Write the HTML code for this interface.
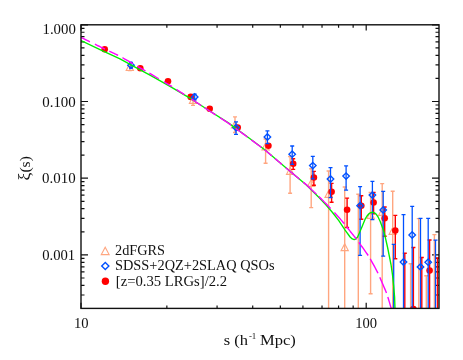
<!DOCTYPE html>
<html><head><meta charset="utf-8"><title>xi(s)</title>
<style>html,body{margin:0;padding:0;background:#fff;}body{width:463px;height:360px;overflow:hidden;font-family:"Liberation Serif",serif;}svg{display:block;}</style>
</head><body>
<svg width="463" height="360" viewBox="0 0 463 360">
<rect width="463" height="360" fill="#fff"/>
<defs><clipPath id="cp"><rect x="81.00" y="24.80" width="358.00" height="283.60"/></clipPath></defs>
<path d="M81.00 24.80h7.00 M439.00 24.80h-7.00 M81.00 101.50h7.00 M439.00 101.50h-7.00 M81.00 78.41h3.50 M439.00 78.41h-3.50 M81.00 64.90h3.50 M439.00 64.90h-3.50 M81.00 55.32h3.50 M439.00 55.32h-3.50 M81.00 47.89h3.50 M439.00 47.89h-3.50 M81.00 41.82h3.50 M439.00 41.82h-3.50 M81.00 36.68h3.50 M439.00 36.68h-3.50 M81.00 32.23h3.50 M439.00 32.23h-3.50 M81.00 28.31h3.50 M439.00 28.31h-3.50 M81.00 178.20h7.00 M439.00 178.20h-7.00 M81.00 155.11h3.50 M439.00 155.11h-3.50 M81.00 141.60h3.50 M439.00 141.60h-3.50 M81.00 132.02h3.50 M439.00 132.02h-3.50 M81.00 124.59h3.50 M439.00 124.59h-3.50 M81.00 118.52h3.50 M439.00 118.52h-3.50 M81.00 113.38h3.50 M439.00 113.38h-3.50 M81.00 108.93h3.50 M439.00 108.93h-3.50 M81.00 105.01h3.50 M439.00 105.01h-3.50 M81.00 254.90h7.00 M439.00 254.90h-7.00 M81.00 231.81h3.50 M439.00 231.81h-3.50 M81.00 218.30h3.50 M439.00 218.30h-3.50 M81.00 208.72h3.50 M439.00 208.72h-3.50 M81.00 201.29h3.50 M439.00 201.29h-3.50 M81.00 195.22h3.50 M439.00 195.22h-3.50 M81.00 190.08h3.50 M439.00 190.08h-3.50 M81.00 185.63h3.50 M439.00 185.63h-3.50 M81.00 181.71h3.50 M439.00 181.71h-3.50 M81.00 308.51h3.50 M439.00 308.51h-3.50 M81.00 295.00h3.50 M439.00 295.00h-3.50 M81.00 285.42h3.50 M439.00 285.42h-3.50 M81.00 277.99h3.50 M439.00 277.99h-3.50 M81.00 271.92h3.50 M439.00 271.92h-3.50 M81.00 266.78h3.50 M439.00 266.78h-3.50 M81.00 262.33h3.50 M439.00 262.33h-3.50 M81.00 258.41h3.50 M439.00 258.41h-3.50 M81.00 308.40v-5.70 M81.00 24.80v5.70 M166.85 308.40v-2.85 M166.85 24.80v2.85 M217.07 308.40v-2.85 M217.07 24.80v2.85 M252.71 308.40v-2.85 M252.71 24.80v2.85 M280.35 308.40v-2.85 M280.35 24.80v2.85 M302.93 308.40v-2.85 M302.93 24.80v2.85 M322.02 308.40v-2.85 M322.02 24.80v2.85 M338.56 308.40v-2.85 M338.56 24.80v2.85 M353.15 308.40v-2.85 M353.15 24.80v2.85 M366.20 308.40v-5.70 M366.20 24.80v5.70" stroke="#111" stroke-width="1.2" fill="none"/>
<g clip-path="url(#cp)">
<path d="M129.80 65.80V70.60 M127.80 65.80H131.80 M127.80 70.60H131.80" stroke="#ffa680" stroke-width="1.40" fill="none"/>
<path d="M193.00 97.60V105.40 M191.00 97.60H195.00 M191.00 105.40H195.00" stroke="#ffa680" stroke-width="1.40" fill="none"/>
<path d="M235.00 116.90V132.50 M233.00 116.90H237.00 M233.00 132.50H237.00" stroke="#ffa680" stroke-width="1.40" fill="none"/>
<path d="M265.60 139.00V163.20 M263.60 139.00H267.60 M263.60 163.20H267.60" stroke="#ffa680" stroke-width="1.40" fill="none"/>
<path d="M290.10 156.50V193.20 M288.10 156.50H292.10 M288.10 193.20H292.10" stroke="#ffa680" stroke-width="1.40" fill="none"/>
<path d="M311.20 168.70V207.60 M309.20 168.70H313.20 M309.20 207.60H313.20" stroke="#ffa680" stroke-width="1.40" fill="none"/>
<path d="M328.60 171.00V308.40 M326.60 171.00H330.60" stroke="#ffa680" stroke-width="1.40" fill="none"/>
<path d="M344.70 187.00V308.40 M342.70 187.00H346.70" stroke="#ffa680" stroke-width="1.40" fill="none"/>
<path d="M358.30 194.20V308.40 M356.30 194.20H360.30" stroke="#ffa680" stroke-width="1.40" fill="none"/>
<path d="M370.60 192.50V293.80 M368.60 192.50H372.60 M368.60 293.80H372.60" stroke="#ffa680" stroke-width="1.40" fill="none"/>
<path d="M382.20 183.60V308.40 M380.20 183.60H384.20" stroke="#ffa680" stroke-width="1.40" fill="none"/>
<path d="M392.70 191.30V308.40 M390.70 191.30H394.70" stroke="#ffa680" stroke-width="1.40" fill="none"/>
<path d="M410.60 263.75V308.40 M408.60 263.75H412.60" stroke="#ffa680" stroke-width="1.40" fill="none"/>
<path d="M418.75 218.60V308.40 M416.75 218.60H420.75" stroke="#ffa680" stroke-width="1.40" fill="none"/>
<path d="M426.30 275.80V308.40 M424.30 275.80H428.30" stroke="#ffa680" stroke-width="1.40" fill="none"/>
<path d="M434.40 234.60V308.40 M432.40 234.60H436.40" stroke="#ffa680" stroke-width="1.40" fill="none"/>
<path d="M129.80 63.60L133.40 70.50L126.20 70.50Z" stroke="#ffa680" stroke-width="1.15" fill="none" stroke-linejoin="miter"/>
<path d="M193.00 96.40L196.60 103.30L189.40 103.30Z" stroke="#ffa680" stroke-width="1.15" fill="none" stroke-linejoin="miter"/>
<path d="M235.00 120.90L238.60 127.80L231.40 127.80Z" stroke="#ffa680" stroke-width="1.15" fill="none" stroke-linejoin="miter"/>
<path d="M265.60 142.90L269.20 149.80L262.00 149.80Z" stroke="#ffa680" stroke-width="1.15" fill="none" stroke-linejoin="miter"/>
<path d="M290.10 167.40L293.70 174.30L286.50 174.30Z" stroke="#ffa680" stroke-width="1.15" fill="none" stroke-linejoin="miter"/>
<path d="M311.20 179.40L314.80 186.30L307.60 186.30Z" stroke="#ffa680" stroke-width="1.15" fill="none" stroke-linejoin="miter"/>
<path d="M328.60 190.40L332.20 197.30L325.00 197.30Z" stroke="#ffa680" stroke-width="1.15" fill="none" stroke-linejoin="miter"/>
<path d="M344.70 243.70L348.30 250.60L341.10 250.60Z" stroke="#ffa680" stroke-width="1.15" fill="none" stroke-linejoin="miter"/>
<path d="M370.60 211.40L374.20 218.30L367.00 218.30Z" stroke="#ffa680" stroke-width="1.15" fill="none" stroke-linejoin="miter"/>
<path d="M382.20 208.40L385.80 215.30L378.60 215.30Z" stroke="#ffa680" stroke-width="1.15" fill="none" stroke-linejoin="miter"/>
<path d="M392.70 227.40L396.30 234.30L389.10 234.30Z" stroke="#ffa680" stroke-width="1.15" fill="none" stroke-linejoin="miter"/>
<path d="M293.20 158.80V169.40 M291.20 158.80H295.20 M291.20 169.40H295.20" stroke="#ff0000" stroke-width="1.40" fill="none"/>
<path d="M313.90 171.40V185.20 M311.90 171.40H315.90 M311.90 185.20H315.90" stroke="#ff0000" stroke-width="1.40" fill="none"/>
<path d="M331.60 183.40V202.30 M329.60 183.40H333.60 M329.60 202.30H333.60" stroke="#ff0000" stroke-width="1.40" fill="none"/>
<path d="M347.10 198.10V227.50 M345.10 198.10H349.10 M345.10 227.50H349.10" stroke="#ff0000" stroke-width="1.40" fill="none"/>
<path d="M361.30 195.70V219.30 M359.30 195.70H363.30 M359.30 219.30H363.30" stroke="#ff0000" stroke-width="1.40" fill="none"/>
<path d="M373.60 192.50V213.75 M371.60 192.50H375.60 M371.60 213.75H375.60" stroke="#ff0000" stroke-width="1.40" fill="none"/>
<path d="M384.70 207.00V236.30 M382.70 207.00H386.70 M382.70 236.30H386.70" stroke="#ff0000" stroke-width="1.40" fill="none"/>
<path d="M395.30 215.40V258.75 M393.30 215.40H397.30 M393.30 258.75H397.30" stroke="#ff0000" stroke-width="1.40" fill="none"/>
<path d="M404.80 253.20V308.40 M402.80 253.20H406.80" stroke="#ff0000" stroke-width="1.40" fill="none"/>
<path d="M413.40 247.50V308.40 M411.40 247.50H415.40" stroke="#ff0000" stroke-width="1.40" fill="none"/>
<path d="M421.80 257.50V308.40 M419.80 257.50H423.80" stroke="#ff0000" stroke-width="1.40" fill="none"/>
<path d="M429.60 240.00V308.40 M427.60 240.00H431.60" stroke="#ff0000" stroke-width="1.40" fill="none"/>
<path d="M437.50 258.00V308.40 M435.50 258.00H439.50" stroke="#ff0000" stroke-width="1.40" fill="none"/>
<circle cx="104.70" cy="49.30" r="3.30" fill="#ff0000"/>
<circle cx="140.30" cy="68.20" r="3.30" fill="#ff0000"/>
<circle cx="168.00" cy="81.30" r="3.30" fill="#ff0000"/>
<circle cx="190.70" cy="96.90" r="3.30" fill="#ff0000"/>
<circle cx="209.70" cy="108.70" r="3.30" fill="#ff0000"/>
<circle cx="237.70" cy="127.60" r="3.30" fill="#ff0000"/>
<circle cx="268.40" cy="145.80" r="3.30" fill="#ff0000"/>
<circle cx="293.20" cy="163.80" r="3.30" fill="#ff0000"/>
<circle cx="313.90" cy="177.50" r="3.30" fill="#ff0000"/>
<circle cx="331.60" cy="191.70" r="3.30" fill="#ff0000"/>
<circle cx="347.10" cy="209.70" r="3.30" fill="#ff0000"/>
<circle cx="361.30" cy="205.70" r="3.30" fill="#ff0000"/>
<circle cx="373.60" cy="202.50" r="3.30" fill="#ff0000"/>
<circle cx="384.70" cy="218.20" r="3.30" fill="#ff0000"/>
<circle cx="395.30" cy="230.60" r="3.30" fill="#ff0000"/>
<circle cx="413.40" cy="309.00" r="3.30" fill="#ff0000"/>
<circle cx="429.60" cy="270.60" r="3.30" fill="#ff0000"/>
<path d="M131.00 62.50V68.20 M129.00 62.50H133.00 M129.00 68.20H133.00" stroke="#0050ff" stroke-width="1.30" fill="none"/>
<path d="M194.70 94.20V99.80 M192.70 94.20H196.70 M192.70 99.80H196.70" stroke="#0050ff" stroke-width="1.30" fill="none"/>
<path d="M236.00 121.90V134.40 M234.00 121.90H238.00 M234.00 134.40H238.00" stroke="#0050ff" stroke-width="1.30" fill="none"/>
<path d="M267.40 130.80V143.60 M265.40 130.80H269.40 M265.40 143.60H269.40" stroke="#0050ff" stroke-width="1.30" fill="none"/>
<path d="M292.20 146.00V164.40 M290.20 146.00H294.20 M290.20 164.40H294.20" stroke="#0050ff" stroke-width="1.30" fill="none"/>
<path d="M312.80 156.30V178.80 M310.80 156.30H314.80 M310.80 178.80H314.80" stroke="#0050ff" stroke-width="1.30" fill="none"/>
<path d="M330.50 167.60V197.60 M328.50 167.60H332.50 M328.50 197.60H332.50" stroke="#0050ff" stroke-width="1.30" fill="none"/>
<path d="M346.10 165.90V190.10 M344.10 165.90H348.10 M344.10 190.10H348.10" stroke="#0050ff" stroke-width="1.30" fill="none"/>
<path d="M360.10 186.60V255.30 M358.10 186.60H362.10 M358.10 255.30H362.10" stroke="#0050ff" stroke-width="1.30" fill="none"/>
<path d="M372.40 181.30V219.60 M370.40 181.30H374.40 M370.40 219.60H374.40" stroke="#0050ff" stroke-width="1.30" fill="none"/>
<path d="M383.20 191.30V256.20 M381.20 191.30H385.20 M381.20 256.20H385.20" stroke="#0050ff" stroke-width="1.30" fill="none"/>
<path d="M393.70 244.40V308.40 M391.70 244.40H395.70" stroke="#0050ff" stroke-width="1.30" fill="none"/>
<path d="M403.50 214.60V308.40 M401.50 214.60H405.50" stroke="#0050ff" stroke-width="1.30" fill="none"/>
<path d="M412.20 206.40V308.40 M410.20 206.40H414.20" stroke="#0050ff" stroke-width="1.30" fill="none"/>
<path d="M420.50 218.40V308.40 M418.50 218.40H422.50" stroke="#0050ff" stroke-width="1.30" fill="none"/>
<path d="M428.20 218.40V308.40 M426.20 218.40H430.20" stroke="#0050ff" stroke-width="1.30" fill="none"/>
<path d="M435.50 240.20V308.40 M433.50 240.20H437.50" stroke="#0050ff" stroke-width="1.30" fill="none"/>
<path d="M131.00 62.10L134.25 65.30L131.00 68.50L127.75 65.30Z" stroke="#0050ff" stroke-width="1.35" fill="none"/>
<path d="M194.70 93.70L197.95 96.90L194.70 100.10L191.45 96.90Z" stroke="#0050ff" stroke-width="1.35" fill="none"/>
<path d="M236.00 124.40L239.25 127.60L236.00 130.80L232.75 127.60Z" stroke="#0050ff" stroke-width="1.35" fill="none"/>
<path d="M267.40 133.80L270.65 137.00L267.40 140.20L264.15 137.00Z" stroke="#0050ff" stroke-width="1.35" fill="none"/>
<path d="M292.20 151.00L295.45 154.20L292.20 157.40L288.95 154.20Z" stroke="#0050ff" stroke-width="1.35" fill="none"/>
<path d="M312.80 162.40L316.05 165.60L312.80 168.80L309.55 165.60Z" stroke="#0050ff" stroke-width="1.35" fill="none"/>
<path d="M330.50 175.80L333.75 179.00L330.50 182.20L327.25 179.00Z" stroke="#0050ff" stroke-width="1.35" fill="none"/>
<path d="M346.10 172.90L349.35 176.10L346.10 179.30L342.85 176.10Z" stroke="#0050ff" stroke-width="1.35" fill="none"/>
<path d="M360.10 202.50L363.35 205.70L360.10 208.90L356.85 205.70Z" stroke="#0050ff" stroke-width="1.35" fill="none"/>
<path d="M372.40 191.90L375.65 195.10L372.40 198.30L369.15 195.10Z" stroke="#0050ff" stroke-width="1.35" fill="none"/>
<path d="M383.20 206.70L386.45 209.90L383.20 213.10L379.95 209.90Z" stroke="#0050ff" stroke-width="1.35" fill="none"/>
<path d="M403.50 258.80L406.75 262.00L403.50 265.20L400.25 262.00Z" stroke="#0050ff" stroke-width="1.35" fill="none"/>
<path d="M412.20 231.80L415.45 235.00L412.20 238.20L408.95 235.00Z" stroke="#0050ff" stroke-width="1.35" fill="none"/>
<path d="M420.50 263.70L423.75 266.90L420.50 270.10L417.25 266.90Z" stroke="#0050ff" stroke-width="1.35" fill="none"/>
<path d="M428.20 259.00L431.45 262.20L428.20 265.40L424.95 262.20Z" stroke="#0050ff" stroke-width="1.35" fill="none"/>
<polyline points="81.00,40.50 100.00,49.60 120.00,58.80 136.00,67.60 150.00,75.20 170.00,86.30 178.00,91.20 190.75,98.70 209.00,110.50 228.00,122.60 245.00,135.00 265.10,150.00 285.00,167.00 306.40,185.00 320.00,198.50 326.30,205.30 332.50,212.50 338.80,220.70 345.10,230.10 350.10,237.00 352.30,238.90 354.20,239.60 356.00,238.80 357.60,237.00 361.30,228.50 365.10,219.20 367.00,216.00 368.90,213.80 370.80,212.60 372.60,212.20 374.50,212.80 376.30,214.30 378.20,217.20 380.10,221.30 383.90,231.50 385.90,240.00 387.60,247.50 389.30,256.00 391.00,264.50 392.50,275.00 393.60,285.60 394.60,297.00 395.00,308.40" fill="none" stroke="#00ee00" stroke-width="1.35" stroke-linejoin="round"/>
<polyline points="81.00,37.40 81.81,37.80 82.62,38.19 83.43,38.59 84.24,38.98 85.05,39.38 85.85,39.78 86.66,40.17 87.47,40.57 88.28,40.96 89.09,41.36 89.90,41.76" fill="none" stroke="#ff00ff" stroke-width="1.4"/>
<polyline points="94.90,44.20 95.82,44.65 96.74,45.10 97.65,45.55 98.57,46.00 99.49,46.45 100.41,46.90 101.33,47.34 102.25,47.78 103.16,48.22 104.08,48.66 105.00,49.10" fill="none" stroke="#ff00ff" stroke-width="1.4"/>
<polyline points="109.30,51.16 110.10,51.55 110.90,51.93 111.70,52.32 112.50,52.70 113.30,53.08 114.10,53.47 114.90,53.85 115.70,54.24 116.50,54.62 117.30,55.00 118.10,55.39" fill="none" stroke="#ff00ff" stroke-width="1.4"/>
<polyline points="122.50,57.72 123.44,58.26 124.37,58.79 125.31,59.33 126.25,59.86 127.18,60.39 128.12,60.93 129.05,61.46 129.99,61.99 130.93,62.54 131.86,63.09 132.80,63.63" fill="none" stroke="#ff00ff" stroke-width="1.4"/>
<polyline points="137.50,66.36 138.23,66.78 138.95,67.20 139.68,67.62 140.41,68.04 141.14,68.46 141.86,68.88 142.59,69.30 143.32,69.72 144.05,70.14 144.77,70.55 145.50,70.97" fill="none" stroke="#ff00ff" stroke-width="1.4"/>
<polyline points="149.40,73.22 150.25,73.72 151.11,74.22 151.96,74.72 152.82,75.22 153.67,75.73 154.53,76.23 155.38,76.73 156.24,77.24 157.09,77.74 157.95,78.24 158.80,78.74" fill="none" stroke="#ff00ff" stroke-width="1.4"/>
<polyline points="163.90,81.75 164.64,82.19 165.37,82.62 166.11,83.05 166.85,83.49 167.58,83.92 168.32,84.36 169.05,84.79 169.79,85.23 170.53,85.69 171.26,86.17 172.00,86.65" fill="none" stroke="#ff00ff" stroke-width="1.4"/>
<polyline points="176.40,89.49 177.13,89.96 177.85,90.44 178.58,90.89 179.31,91.35 180.04,91.80 180.76,92.26 181.49,92.71 182.22,93.17 182.95,93.63 183.67,94.08 184.40,94.54" fill="none" stroke="#ff00ff" stroke-width="1.4"/>
<polyline points="191.30,98.91 192.21,99.53 193.12,100.16 194.03,100.78 194.94,101.40 195.85,102.00 196.75,102.60 197.66,103.19 198.57,103.79 199.48,104.38 200.39,104.98 201.30,105.58" fill="none" stroke="#ff00ff" stroke-width="1.4"/>
<polyline points="204.50,107.67 205.52,108.34 206.54,109.01 207.55,109.67 208.57,110.34 209.59,111.00 210.61,111.66 211.63,112.32 212.65,112.97 213.66,113.63 214.68,114.29 215.70,114.94" fill="none" stroke="#ff00ff" stroke-width="1.4"/>
<polyline points="220.00,117.72 221.00,118.36 222.00,119.01 223.00,119.66 224.00,120.30 225.00,120.95 226.00,121.59 227.00,122.24 228.00,122.88 229.00,123.62 230.00,124.36 231.00,125.08" fill="none" stroke="#ff00ff" stroke-width="1.4"/>
<polyline points="235.50,128.35 236.59,129.14 237.68,129.93 238.77,130.72 239.86,131.51 240.95,132.30 242.05,133.09 243.14,133.88 244.23,134.68 245.32,135.47 246.41,136.28 247.50,137.09" fill="none" stroke="#ff00ff" stroke-width="1.4"/>
<polyline points="251.30,139.91 252.21,140.58 253.12,141.26 254.03,141.93 254.94,142.61 255.85,143.28 256.75,143.96 257.66,144.63 258.57,145.31 259.48,145.98 260.39,146.66 261.30,147.33" fill="none" stroke="#ff00ff" stroke-width="1.4"/>
<polyline points="264.50,149.70 265.18,150.22 265.86,150.80 266.55,151.38 267.23,151.96 267.91,152.54 268.59,153.12 269.27,153.70 269.95,154.28 270.64,154.86 271.32,155.43 272.00,156.01" fill="none" stroke="#ff00ff" stroke-width="1.4"/>
<polyline points="275.00,158.56 275.63,159.10 276.25,159.63 276.88,160.16 277.51,160.70 278.14,161.23 278.76,161.76 279.39,162.30 280.02,162.83 280.65,163.36 281.27,163.90 281.90,164.43" fill="none" stroke="#ff00ff" stroke-width="1.4"/>
<polyline points="285.70,167.65 286.95,168.69 288.19,169.73 289.44,170.78 290.68,171.82 291.93,172.86 293.17,173.90 294.42,174.95 295.66,175.99 296.91,177.03 298.15,178.07 299.40,179.11" fill="none" stroke="#ff00ff" stroke-width="1.4"/>
<polyline points="303.20,182.16 304.40,183.12 305.60,184.08 306.80,185.09 308.00,186.23 309.20,187.37 310.40,188.50 311.60,189.64 312.80,190.78 314.00,191.91 315.20,193.05 316.40,194.19" fill="none" stroke="#ff00ff" stroke-width="1.4"/>
<polyline points="318.80,196.46 319.88,197.49 320.96,198.58 322.05,199.68 323.13,200.78 324.21,201.88 325.29,202.98 326.37,204.09 327.45,205.22 328.54,206.34 329.62,207.47 330.70,208.60" fill="none" stroke="#ff00ff" stroke-width="1.4"/>
<polyline points="334.40,212.50 335.31,213.48 336.22,214.47 337.13,215.45 338.04,216.44 338.95,217.49 339.85,218.54 340.76,219.60 341.67,220.65 342.58,221.70 343.49,222.75 344.40,223.80" fill="none" stroke="#ff00ff" stroke-width="1.4"/>
<polyline points="346.60,226.60 347.51,227.78 348.42,228.96 349.33,230.13 350.24,231.31 351.15,232.48 352.05,233.62 352.96,234.76 353.87,235.90 354.78,237.04 355.69,238.18 356.60,239.34" fill="none" stroke="#ff00ff" stroke-width="1.4"/>
<polyline points="358.80,242.40 359.65,243.55 360.51,244.69 361.36,245.84 362.22,246.98 363.07,248.13 363.93,249.32 364.78,250.55 365.64,251.79 366.49,253.03 367.35,254.26 368.20,255.50" fill="none" stroke="#ff00ff" stroke-width="1.4"/>
<polyline points="370.20,258.78 370.91,260.05 371.62,261.33 372.33,262.60 373.04,263.87 373.75,265.15 374.45,266.42 375.16,267.72 375.87,269.09 376.58,270.46 377.29,271.83 378.00,273.20" fill="none" stroke="#ff00ff" stroke-width="1.4"/>
<polyline points="379.80,277.34 380.41,278.74 381.02,280.14 381.63,281.54 382.24,282.94 382.85,284.34 383.45,285.76 384.06,287.19 384.67,288.62 385.28,290.05 385.89,291.47 386.50,292.90" fill="none" stroke="#ff00ff" stroke-width="1.4"/>
<polyline points="387.80,296.93 388.12,297.97 388.44,299.01 388.75,300.06 389.07,301.10 389.39,302.14 389.71,303.23 390.03,304.33 390.35,305.43 390.66,306.54 390.98,307.64 391.30,308.40" fill="none" stroke="#ff00ff" stroke-width="1.4"/>
</g>
<rect x="81.00" y="24.80" width="358.00" height="283.60" fill="none" stroke="#111" stroke-width="1.4"/>
<g style="filter:grayscale(1)" font-family="'Liberation Serif', serif" fill="#111">
<text x="75.80" y="34.20" font-size="15.60" text-anchor="end" textLength="33.30" lengthAdjust="spacingAndGlyphs" >1.000</text>
<text x="75.80" y="106.80" font-size="15.60" text-anchor="end" textLength="33.60" lengthAdjust="spacingAndGlyphs" >0.100</text>
<text x="75.60" y="183.40" font-size="15.60" text-anchor="end" textLength="33.60" lengthAdjust="spacingAndGlyphs" >0.010</text>
<text x="75.20" y="260.10" font-size="15.60" text-anchor="end" textLength="33.00" lengthAdjust="spacingAndGlyphs" >0.001</text>
<text x="81.20" y="327.80" font-size="15.60" text-anchor="middle" textLength="14.60" lengthAdjust="spacingAndGlyphs" >10</text>
<text x="366.10" y="327.80" font-size="15.60" text-anchor="middle" textLength="21.90" lengthAdjust="spacingAndGlyphs" >100</text>
<text x="115.00" y="254.50" font-size="15.00" text-anchor="start" textLength="50.00" lengthAdjust="spacingAndGlyphs" >2dFGRS</text>
<text x="115.00" y="270.00" font-size="15.00" text-anchor="start" textLength="159.50" lengthAdjust="spacingAndGlyphs" >SDSS+2QZ+2SLAQ QSOs</text>
<text x="115.80" y="285.70" font-size="15.00" text-anchor="start" textLength="111.30" lengthAdjust="spacingAndGlyphs" >[z=0.35 LRGs]/2.2</text>
<text x="223.80" y="344.50" font-size="15.00" text-anchor="start" textLength="24.30" lengthAdjust="spacingAndGlyphs" >s (h</text>
<text x="248.90" y="339.00" font-size="9.00" text-anchor="start" textLength="7.40" lengthAdjust="spacingAndGlyphs" >-1</text>
<text x="260.00" y="344.50" font-size="15.00" text-anchor="start" textLength="35.80" lengthAdjust="spacingAndGlyphs" >Mpc)</text>
<text transform="translate(29.6,168.3) rotate(-90)" font-size="15" text-anchor="middle" textLength="24.2" lengthAdjust="spacingAndGlyphs"><tspan font-size="17">ξ</tspan>(s)</text>
</g>
<path d="M105.20 247.20L109.10 254.60L101.30 254.60Z" stroke="#ffa680" stroke-width="1.15" fill="none" stroke-linejoin="miter"/>
<path d="M105.30 262.45L108.90 266.00L105.30 269.55L101.70 266.00Z" stroke="#0050ff" stroke-width="1.35" fill="none"/>
<circle cx="105.40" cy="281.25" r="3.70" fill="#ff0000"/>
</svg>
</body></html>
